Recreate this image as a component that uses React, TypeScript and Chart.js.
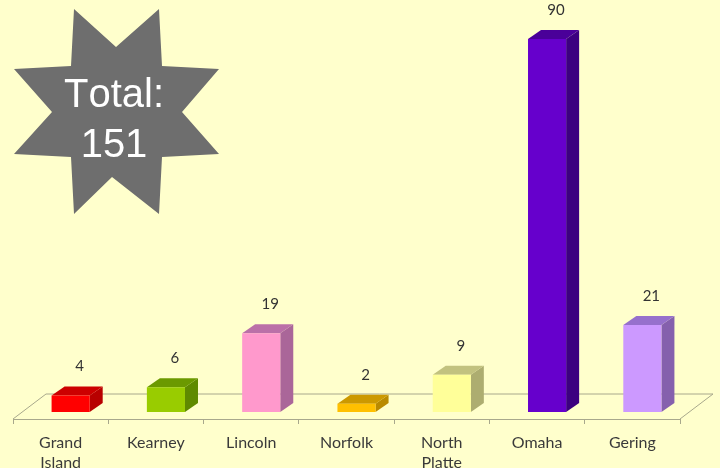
import React, { useEffect, useRef } from "react";
import { Chart, registerables } from "chart.js";

Chart.register(...registerables);

// Admissions by city, with the sum shown in the star callout.
const cities = [["Grand", "Island"], "Kearney", "Lincoln", "Norfolk", ["North", "Platte"], "Omaha", "Gering"];
const counts = [4, 6, 19, 2, 9, 90, 21];
const frontColors = ["#ff0000", "#99cc00", "#ff99cc", "#ffc000", "#ffff99", "#6600cc", "#cc99ff"];
const sideColors = ["#b80000", "#5f8a00", "#aa6699", "#b98a00", "#adad70", "#3c0080", "#8560ad"];
const topColors = ["#cc0000", "#6b9900", "#bb70a8", "#cc9900", "#c2c27f", "#4a0099", "#9670cc"];
const calloutLines = ["Total:", "151"];

const PAGE_BG = "#ffffcc";
const FLOOR = "#a8a88c";
const BAR_DEPTH = { dx: 13, dy: -9 };
const FLOOR_DEPTH = { dx: 33, dy: -25 };
const BAR_SHIFT = 10;

// Floor plate behind the columns; the front edge is the x axis itself.
const floorPlugin = {
  id: "floor",
  beforeDatasetsDraw(chart: any) {
    const { ctx, chartArea: a } = chart;
    ctx.save();
    ctx.strokeStyle = FLOOR;
    ctx.lineWidth = 1;
    ctx.beginPath();
    ctx.moveTo(a.left, a.bottom);
    ctx.lineTo(a.left + FLOOR_DEPTH.dx, a.bottom + FLOOR_DEPTH.dy);
    ctx.lineTo(a.right + FLOOR_DEPTH.dx, a.bottom + FLOOR_DEPTH.dy);
    ctx.lineTo(a.right, a.bottom);
    ctx.stroke();
    ctx.restore();
  },
};

// Extruded side and top faces, nudged so the columns sit in the middle of the floor.
const columnPlugin = {
  id: "columns",
  beforeDatasetDraw(chart: any) {
    const { ctx } = chart;
    const { dx, dy } = BAR_DEPTH;
    ctx.save();
    ctx.translate(BAR_SHIFT, 0);
    chart.getDatasetMeta(0).data.forEach((bar: any, i: number) => {
      const left = bar.x - bar.width / 2;
      const right = bar.x + bar.width / 2;
      ctx.fillStyle = sideColors[i];
      ctx.beginPath();
      ctx.moveTo(right, bar.y);
      ctx.lineTo(right + dx, bar.y + dy);
      ctx.lineTo(right + dx, bar.base + dy);
      ctx.lineTo(right, bar.base);
      ctx.closePath();
      ctx.fill();
      ctx.fillStyle = topColors[i];
      ctx.beginPath();
      ctx.moveTo(left, bar.y);
      ctx.lineTo(left + dx, bar.y + dy);
      ctx.lineTo(right + dx, bar.y + dy);
      ctx.lineTo(right, bar.y);
      ctx.closePath();
      ctx.fill();
    });
  },
  afterDatasetDraw(chart: any) {
    chart.ctx.restore();
  },
};

const valueLabelPlugin = {
  id: "valueLabels",
  afterDatasetsDraw(chart: any) {
    const { ctx } = chart;
    ctx.save();
    ctx.font = "15px Lato";
    ctx.fillStyle = "#333333";
    ctx.textAlign = "center";
    ctx.textBaseline = "middle";
    chart.getDatasetMeta(0).data.forEach((bar: any, i: number) => {
      ctx.fillText(String(counts[i]), bar.x + BAR_SHIFT + 9, bar.y - 29);
    });
    ctx.restore();
  },
};

// Eight-pointed grey star carrying the total.
const calloutPlugin = {
  id: "callout",
  afterDraw(chart: any) {
    const { ctx } = chart;
    const outline = [
      [74, 9], [116, 47], [159, 9], [162, 66], [219, 69], [182, 112], [219, 154], [162, 157],
      [159, 214], [112, 177], [74, 214], [71, 157], [14, 154], [52, 112], [14, 69], [71, 66],
    ];
    ctx.save();
    ctx.fillStyle = "#6e6e6e";
    ctx.beginPath();
    outline.forEach(([x, y], i) => (i ? ctx.lineTo(x, y) : ctx.moveTo(x, y)));
    ctx.closePath();
    ctx.fill();
    ctx.fillStyle = "#ffffff";
    ctx.font = '40px "Liberation Sans"';
    ctx.fontKerning = "none";
    ctx.textAlign = "center";
    ctx.textBaseline = "alphabetic";
    ctx.fillText(calloutLines[0], 114, 107);
    ctx.fillText(calloutLines[1], 114, 157);
    ctx.restore();
  },
};

export default function App() {
  const canvasRef = useRef<HTMLCanvasElement>(null);

  useEffect(() => {
    document.body.style.margin = "0";
    document.body.style.background = PAGE_BG;
    const chart = new Chart(canvasRef.current!, {
      type: "bar",
      data: {
        labels: cities,
        datasets: [
          {
            data: counts,
            backgroundColor: frontColors,
            borderWidth: 0,
            barPercentage: 0.4,
            categoryPercentage: 1,
          },
        ],
      },
      options: {
        responsive: false,
        animation: false,
        layout: { padding: { top: 8, left: 13, right: 40, bottom: -13.6 } },
        plugins: { legend: { display: false }, tooltip: { enabled: false } },
        scales: {
          x: {
            grid: { drawOnChartArea: false, drawTicks: true, tickLength: 5, color: FLOOR },
            border: { color: FLOOR },
            ticks: {
              autoSkip: false,
              maxRotation: 0,
              color: "#3a3a3a",
              padding: 8,
              font: { family: "Lato", size: 16, lineHeight: 1.3 },
            },
          },
          y: { display: false, min: -1.68, max: 97.45 },
        },
      },
      plugins: [floorPlugin, columnPlugin, valueLabelPlugin, calloutPlugin],
    });
    return () => chart.destroy();
  }, []);

  return <canvas ref={canvasRef} width={720} height={468} style={{ display: "block" }} />;
}
